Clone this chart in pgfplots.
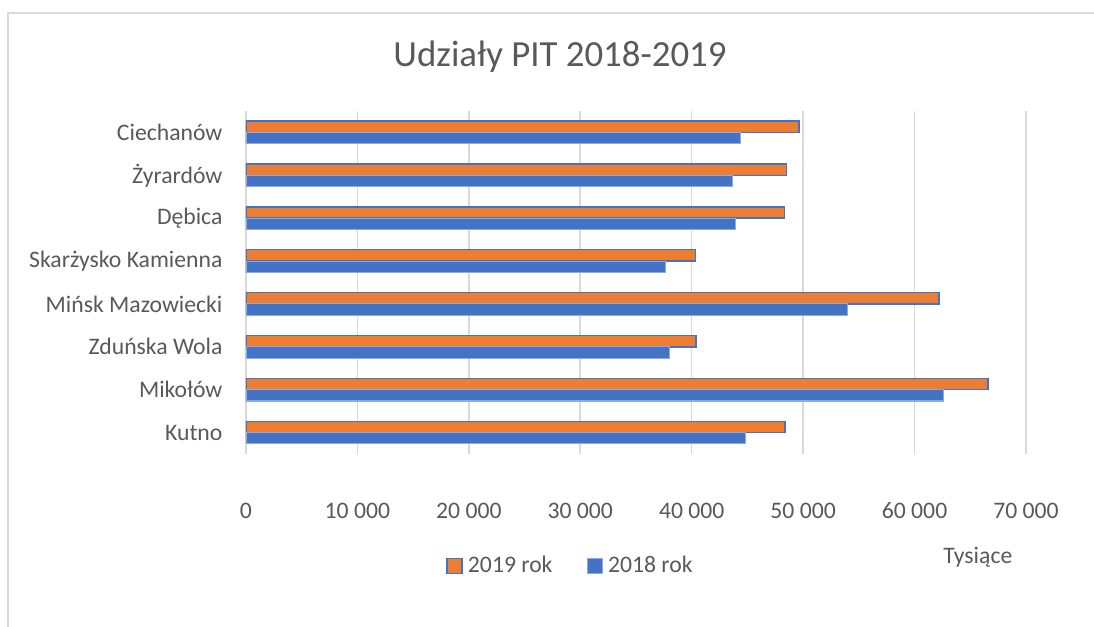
\documentclass[border=0pt]{standalone}
\usepackage{pgfplots}
\pgfplotsset{compat=1.18}
\usepackage{fontspec}
\setmainfont{Carlito}

\definecolor{xlblue}{HTML}{4472C4}
\definecolor{xlorange}{HTML}{ED7D31}
\definecolor{xlblueline}{HTML}{8FAADC}
\definecolor{xlgrid}{HTML}{D9D9D9}
\definecolor{xltext}{HTML}{595959}

\begin{document}
\begin{tikzpicture}
% picture area: 1094 x 627 px at 0.38pt per px
\useasboundingbox (0,0) rectangle (415.72pt,238.26pt);
\draw[xlgrid, line width=0.6pt] (3.04pt,0pt) -- (3.04pt,233.3pt) -- (416pt,233.3pt);

\begin{axis}[
    at={(93.48pt,65.74pt)}, anchor=south west,
    scale only axis,
    width=296.4pt, height=130.34pt,
    xbar, bar width=4.3pt,
    xmin=0, xmax=70000,
    ymin=-0.5, ymax=7.5,
    xtick={0,10000,...,70000},
    scaled x ticks=false,
    /pgf/number format/.cd, 1000 sep={~}, assume math mode=true,
    /pgfplots/.cd,
    ytick={0,...,7},
    yticklabels={Kutno, Mikołów, Zduńska Wola, Mińsk Mazowiecki,
                 Skarżysko Kamienna, Dębica, Żyrardów, Ciechanów},
    xmajorgrids, grid style={xlgrid, line width=0.6pt},
    axis line style={draw=none},
    major tick style={draw=none},
    xticklabel style={anchor=center, inner sep=0pt, yshift=-21.6pt,
                      font=\fontsize{9}{11}\selectfont, text=xltext},
    yticklabel style={anchor=east, inner sep=0pt, xshift=-4.5pt,
                      font=\fontsize{9}{11}\selectfont, text=xltext},
    legend columns=2,
    legend style={at={(0.418,-0.3265)}, anchor=center, draw=none,
                  font=\fontsize{9}{11}\selectfont, text=xltext,
                  /tikz/every even column/.append style={column sep=11pt}},
    legend image code/.code={%
        \draw[#1] (0pt,-2.85pt) rectangle (5.7pt,2.85pt);},
]
% 2019 rok
\addplot[fill=xlorange, draw=xlblue, line width=0.55pt, bar shift=2.15pt]
    coordinates {(48360,0) (66580,1) (40370,2) (62180,3)
                 (40330,4) (48320,5) (48530,6) (49610,7)};
% 2018 rok
\addplot[fill=xlblue, draw=xlblueline, line width=0.4pt, bar shift=-2.15pt]
    coordinates {(44820,0) (62630,1) (38000,2) (54010,3)
                 (37640,4) (43960,5) (43690,6) (44400,7)};
\legend{2019 rok, 2018 rok}
\end{axis}

\node[text=xltext, font=\fontsize{14}{17}\selectfont] at (212.8pt,216.6pt) {Udziały PIT 2018-2019};
\node[text=xltext, font=\fontsize{9}{11}\selectfont] at (371.6pt,26.4pt) {Tysiące};
\end{tikzpicture}
\end{document}
